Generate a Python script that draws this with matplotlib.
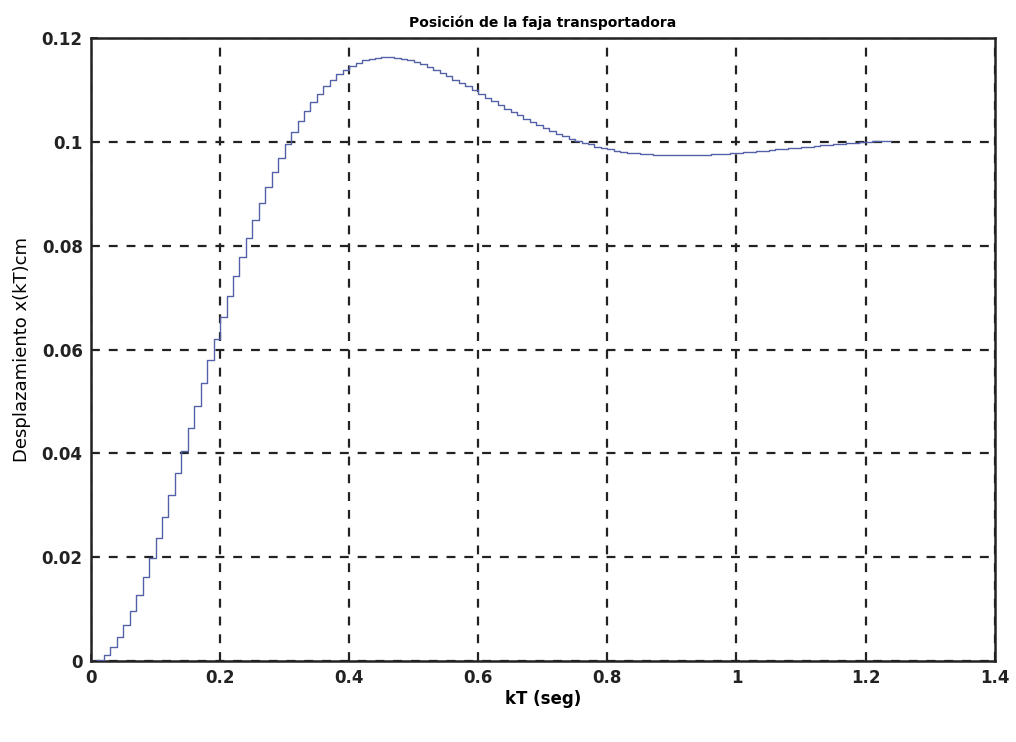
import matplotlib.pyplot as plt
import numpy as np

# sampling period read from the staircase (one step ~ 0.01 s)
T = 0.01

x_kT = [
    0.0000, 0.0003, 0.0012, 0.0027, 0.0046, 0.0069, 0.0097, 0.0128, 0.0162, 0.0198,
    0.0237, 0.0278, 0.0319, 0.0362, 0.0405, 0.0449, 0.0492, 0.0536, 0.0579, 0.0621,
    0.0663, 0.0703, 0.0742, 0.0779, 0.0815, 0.0850, 0.0882, 0.0913, 0.0942, 0.0969,
    0.0995, 0.1018, 0.1040, 0.1059, 0.1077, 0.1093, 0.1107, 0.1119, 0.1130, 0.1139,
    0.1146, 0.1152, 0.1157, 0.1160, 0.1162, 0.1163, 0.1163, 0.1162, 0.1160, 0.1157,
    0.1153, 0.1149, 0.1144, 0.1139, 0.1133, 0.1127, 0.1120, 0.1113, 0.1107, 0.1099,
    0.1092, 0.1085, 0.1078, 0.1071, 0.1064, 0.1057, 0.1051, 0.1044, 0.1038, 0.1032,
    0.1026, 0.1021, 0.1016, 0.1011, 0.1006, 0.1002, 0.0998, 0.0995, 0.0991, 0.0988,
    0.0986, 0.0983, 0.0981, 0.0979, 0.0978, 0.0977, 0.0976, 0.0975, 0.0974, 0.0974,
    0.0974, 0.0974, 0.0974, 0.0974, 0.0974, 0.0975, 0.0976, 0.0976, 0.0977, 0.0978,
    0.0979, 0.0980, 0.0981, 0.0982, 0.0983, 0.0985, 0.0986, 0.0987, 0.0988, 0.0989,
    0.0990, 0.0991, 0.0992, 0.0993, 0.0994, 0.0995, 0.0996, 0.0997, 0.0998, 0.0999,
    0.1000, 0.1001, 0.1001, 0.1002, 0.1002,
]

xticks = [0, 0.2, 0.4, 0.6, 0.8, 1.0, 1.2, 1.4]
xtick_labels = ['0', '0.2', '0.4', '0.6', '0.8', '1', '1.2', '1.4']
yticks = [0, 0.02, 0.04, 0.06, 0.08, 0.1, 0.12]
ytick_labels = ['0', '0.02', '0.04', '0.06', '0.08', '0.1', '0.12']

plt.rcParams['font.family'] = ['DejaVu Sans']

k = np.arange(len(x_kT)) * T

fig = plt.figure(figsize=(10.16, 7.42), dpi=100)
ax = fig.add_axes([0.0896, 0.109, 0.8894, 0.8398])

ax.step(k, x_kT, where='post', color='#5461a8', linewidth=1.0, zorder=3)

ax.set_xlim(0, 1.4)
ax.set_ylim(0, 0.12)
ax.set_xticks(xticks)
ax.set_xticklabels(xtick_labels, fontsize=12, fontweight='bold')
ax.set_yticks(yticks)
ax.set_yticklabels(ytick_labels, fontsize=12, fontweight='bold')
ax.tick_params(direction='in', length=5, width=1.2, colors='#222222', pad=6)

ax.grid(True, color='#222222', linestyle=(0, (4, 4)), linewidth=1.6)
for s in ax.spines.values():
    s.set_linewidth(1.8)
    s.set_color('#222222')

ax.set_title('Posición de la faja transportadora', fontsize=10, fontweight='bold', pad=8)
ax.set_xlabel('kT (seg)', fontsize=12, fontweight='bold', labelpad=2)
ax.set_ylabel('Desplazamiento x(kT)cm', fontsize=13, labelpad=8)

fig.savefig('out.png', dpi=100)
